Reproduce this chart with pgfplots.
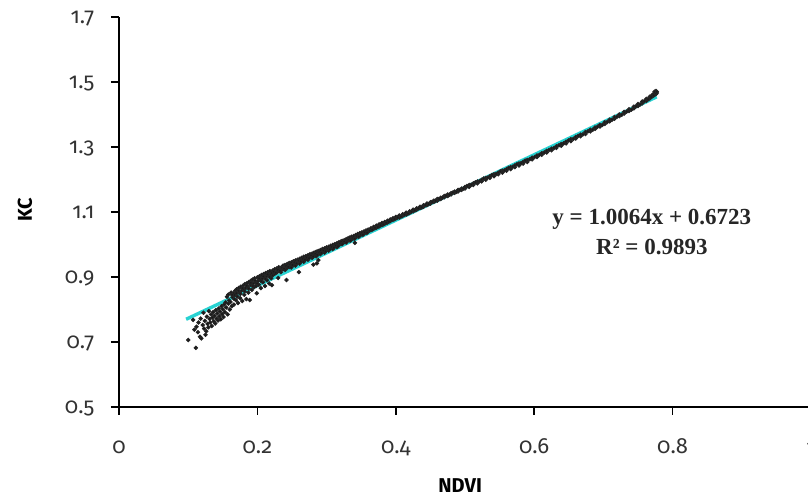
\documentclass[border=0pt]{standalone}
\usepackage{pgfplots}
\pgfplotsset{compat=1.18}
\usepackage{fontspec}
\setmainfont{Fira Sans}[Numbers=OldStyle]
\newfontfamily\eqfont{Liberation Serif}
\definecolor{trend}{RGB}{40,210,210}
\begin{document}
\begin{tikzpicture}
\begin{axis}[
  scale only axis, width=346pt, height=195pt,
  xmin=0, xmax=1, ymin=0.5, ymax=1.7,
  axis x line*=bottom, axis y line*=left,
  axis line style={line width=0.75pt, black},
  xtick={0,0.2,0.4,0.6,0.8,1},
  xticklabels={0,0.2,0.4,0.6,0.8,1},
  ytick={0.5,0.7,0.9,1.1,1.3,1.5,1.7},
  yticklabels={0.5,0.7,0.9,1.1,1.3,1.5,1.7},
  tick align=outside, major tick length=4pt,
  tick style={line width=0.75pt, black},
  ticklabel style={font=\fontsize{11}{13}\selectfont, text=black!80},
  xticklabel style={text height=0.7em, text depth=0.2em, yshift=-8.6pt},
  yticklabel style={text height=0.7em, text depth=0pt, xshift=-4.8pt},
  xlabel={NDVI}, ylabel={KC},
  label style={font=\bfseries\fontsize{10}{12}\selectfont},
  xlabel style={at={(axis description cs:0.493,-0.2026)}, anchor=center},
  ylabel style={at={(axis description cs:-0.1358,0.505)}, anchor=center},
  clip=false,
]
\addplot[only marks, mark=*, mark size=0.9pt, draw=black!85, fill=black!90] coordinates {
(0.100,0.706) (0.111,0.682) (0.107,0.768) (0.112,0.747) (0.117,0.716) (0.114,0.730) (0.119,0.711) (0.121,0.752) (0.123,0.741) (0.124,0.765) (0.126,0.733) (0.127,0.778) (0.128,0.756) (0.129,0.745) (0.131,0.771) (0.132,0.760) (0.133,0.785) (0.134,0.749) (0.135,0.775) (0.136,0.792) (0.137,0.764) (0.138,0.781) (0.139,0.757) (0.140,0.798) (0.141,0.772) (0.142,0.788) (0.143,0.766) (0.144,0.803) (0.145,0.779) (0.146,0.794) (0.147,0.770) (0.148,0.810) (0.149,0.786) (0.150,0.801) (0.151,0.777) (0.152,0.815) (0.153,0.792) (0.154,0.822) (0.155,0.806) (0.156,0.839) (0.157,0.785) (0.158,0.818) (0.159,0.828) (0.160,0.800) (0.118,0.772) (0.122,0.790) (0.109,0.738) (0.115,0.760) (0.130,0.795) (0.125,0.722) (0.158,0.846) (0.162,0.852)
(0.161,0.823) (0.163,0.810) (0.164,0.838) (0.165,0.850) (0.166,0.815) (0.167,0.845) (0.168,0.858) (0.169,0.829) (0.170,0.862) (0.171,0.840) (0.172,0.820) (0.173,0.866) (0.174,0.852) (0.175,0.835) (0.176,0.870) (0.177,0.858) (0.178,0.826) (0.179,0.873) (0.180,0.862) (0.181,0.845) (0.182,0.878) (0.183,0.866) (0.184,0.832) (0.185,0.881) (0.186,0.870) (0.187,0.852) (0.188,0.885) (0.189,0.829) (0.190,0.876) (0.191,0.889) (0.192,0.860) (0.193,0.892) (0.194,0.880) (0.195,0.868) (0.196,0.896) (0.197,0.884) (0.198,0.872) (0.199,0.850) (0.200,0.899) (0.201,0.888) (0.202,0.876) (0.203,0.902) (0.204,0.892) (0.205,0.866) (0.206,0.906) (0.207,0.895) (0.208,0.884) (0.209,0.909) (0.210,0.899) (0.211,0.872) (0.212,0.912) (0.213,0.902) (0.214,0.890) (0.215,0.915) (0.216,0.905) (0.217,0.880) (0.218,0.918) (0.219,0.908) (0.220,0.896) (0.221,0.875)
(0.1635,0.845) (0.1665,0.832) (0.1695,0.850) (0.1725,0.858) (0.1755,0.848) (0.1785,0.866) (0.1815,0.856) (0.1845,0.873) (0.1875,0.864) (0.1905,0.882) (0.1935,0.872) (0.1965,0.889) (0.1995,0.880) (0.2025,0.896) (0.2055,0.887) (0.2085,0.902) (0.2115,0.894) (0.2145,0.908) (0.2175,0.900) (0.2205,0.912)
(0.222,0.905) (0.222,0.920) (0.225,0.910) (0.225,0.924) (0.228,0.914) (0.228,0.926) (0.231,0.918) (0.231,0.930) (0.230,0.897) (0.234,0.915) (0.234,0.928) (0.237,0.924) (0.237,0.935) (0.240,0.922) (0.240,0.937) (0.242,0.891) (0.243,0.928) (0.243,0.940) (0.246,0.931) (0.246,0.943) (0.249,0.929) (0.249,0.945) (0.252,0.937) (0.252,0.948) (0.255,0.935) (0.255,0.951) (0.258,0.943) (0.258,0.953) (0.260,0.915) (0.261,0.941) (0.261,0.956) (0.264,0.949) (0.264,0.959) (0.267,0.947) (0.267,0.962) (0.270,0.955) (0.270,0.964) (0.273,0.953) (0.273,0.967) (0.276,0.961) (0.276,0.970) (0.279,0.959) (0.279,0.972) (0.281,0.938) (0.286,0.942) (0.288,0.952) (0.282,0.966) (0.282,0.975) (0.285,0.964) (0.285,0.978) (0.288,0.972) (0.288,0.980) (0.291,0.970) (0.291,0.983) (0.294,0.977) (0.294,0.986) (0.297,0.975) (0.297,0.988) (0.300,0.983) (0.300,0.991) (0.303,0.981) (0.303,0.993) (0.306,0.988) (0.306,0.996) (0.309,0.986) (0.309,0.999) (0.312,0.994) (0.312,1.001) (0.315,0.992) (0.315,1.004) (0.318,0.999) (0.318,1.007) (0.321,1.002) (0.321,1.010) (0.324,1.005) (0.324,1.012) (0.327,1.008) (0.327,1.015) (0.330,1.011) (0.330,1.018) (0.333,1.013) (0.333,1.021) (0.336,1.016) (0.336,1.024) (0.339,1.019) (0.339,1.026) (0.341,1.005) (0.342,1.022) (0.342,1.029) (0.345,1.025) (0.345,1.032) (0.348,1.028) (0.348,1.035) (0.351,1.031) (0.351,1.037) (0.354,1.034) (0.354,1.040) (0.357,1.037) (0.357,1.043) (0.360,1.040) (0.360,1.046) (0.364,1.044) (0.364,1.050) (0.368,1.048) (0.368,1.054) (0.372,1.052) (0.372,1.058) (0.376,1.056) (0.376,1.062) (0.380,1.060) (0.380,1.066) (0.384,1.064) (0.384,1.069) (0.388,1.068) (0.388,1.073) (0.392,1.072) (0.392,1.077) (0.396,1.076) (0.396,1.081) (0.400,1.080) (0.400,1.085)
(0.2235,0.916) (0.2265,0.913) (0.2295,0.922) (0.2325,0.919) (0.2355,0.928) (0.2385,0.926) (0.2415,0.934) (0.2445,0.931) (0.2475,0.939) (0.2505,0.937) (0.2535,0.945) (0.2565,0.942) (0.2595,0.950) (0.2625,0.948) (0.2655,0.955) (0.2685,0.953) (0.2715,0.960) (0.2745,0.958) (0.2775,0.966) (0.2805,0.963) (0.2835,0.971) (0.2865,0.968) (0.2895,0.976) (0.2925,0.974) (0.2955,0.981) (0.2985,0.979) (0.3015,0.986) (0.3045,0.985) (0.3075,0.992) (0.3105,0.990) (0.3135,0.997) (0.3165,0.995) (0.3195,1.003) (0.3225,1.001) (0.3255,1.009) (0.3285,1.006) (0.3315,1.014) (0.3345,1.012) (0.3375,1.019) (0.3405,1.018) (0.3435,1.025) (0.3465,1.024) (0.3495,1.031) (0.3525,1.030) (0.3555,1.037) (0.3585,1.036) (0.362,1.043) (0.366,1.046) (0.370,1.051) (0.374,1.054) (0.378,1.059) (0.382,1.062) (0.386,1.067) (0.390,1.070) (0.394,1.075) (0.398,1.078)
(0.405,1.083) (0.405,1.089) (0.410,1.088) (0.410,1.093) (0.415,1.092) (0.415,1.098) (0.420,1.097) (0.420,1.102) (0.425,1.102) (0.425,1.107) (0.430,1.107) (0.430,1.111) (0.435,1.112) (0.435,1.116) (0.440,1.116) (0.440,1.121) (0.445,1.121) (0.445,1.126) (0.450,1.126) (0.450,1.130) (0.455,1.131) (0.455,1.135) (0.460,1.135) (0.460,1.140) (0.465,1.140) (0.465,1.144) (0.470,1.145) (0.470,1.149) (0.475,1.149) (0.475,1.154) (0.480,1.154) (0.480,1.158) (0.485,1.159) (0.485,1.163) (0.490,1.163) (0.490,1.168) (0.495,1.168) (0.495,1.172) (0.500,1.172) (0.500,1.177)
(0.4025,1.083) (0.4075,1.086) (0.4125,1.092) (0.4175,1.095) (0.4225,1.101) (0.4275,1.105) (0.4325,1.111) (0.4375,1.114) (0.4425,1.121) (0.4475,1.124) (0.4525,1.131) (0.4575,1.134) (0.4625,1.140) (0.4675,1.144) (0.4725,1.150) (0.4775,1.153) (0.4825,1.160) (0.4875,1.162) (0.4925,1.168) (0.4975,1.172)
(0.506,1.177) (0.506,1.183) (0.512,1.183) (0.512,1.188) (0.518,1.188) (0.518,1.194) (0.524,1.194) (0.524,1.199) (0.530,1.199) (0.530,1.205) (0.536,1.205) (0.536,1.210) (0.542,1.210) (0.542,1.216) (0.548,1.216) (0.548,1.221) (0.554,1.221) (0.554,1.227) (0.560,1.227) (0.560,1.232) (0.566,1.232) (0.566,1.238) (0.572,1.238) (0.572,1.243) (0.578,1.243) (0.578,1.249) (0.584,1.249) (0.584,1.254) (0.590,1.254) (0.590,1.260) (0.597,1.262) (0.597,1.267) (0.604,1.269) (0.604,1.274) (0.611,1.276) (0.611,1.281) (0.618,1.283) (0.618,1.288) (0.625,1.290) (0.625,1.295) (0.632,1.297) (0.632,1.302) (0.639,1.304) (0.639,1.309) (0.646,1.311) (0.646,1.316) (0.653,1.318) (0.653,1.324) (0.660,1.326) (0.660,1.331) (0.667,1.333) (0.667,1.338) (0.674,1.340) (0.674,1.346) (0.681,1.348) (0.681,1.353) (0.688,1.356) (0.688,1.360) (0.695,1.363) (0.695,1.368) (0.702,1.371) (0.702,1.376) (0.709,1.379) (0.709,1.384) (0.716,1.387) (0.716,1.392) (0.723,1.395) (0.723,1.400) (0.730,1.403) (0.730,1.408) (0.737,1.411) (0.737,1.416) (0.744,1.419) (0.744,1.424) (0.750,1.426) (0.750,1.432) (0.756,1.434) (0.756,1.440) (0.762,1.442) (0.762,1.448) (0.767,1.449) (0.767,1.455) (0.771,1.456) (0.771,1.461) (0.774,1.460) (0.774,1.466) (0.776,1.463) (0.776,1.469) (0.777,1.466)
(0.503,1.180) (0.509,1.184) (0.515,1.191) (0.521,1.195) (0.527,1.203) (0.533,1.206) (0.539,1.214) (0.545,1.217) (0.551,1.225) (0.557,1.228) (0.563,1.236) (0.569,1.239) (0.575,1.247) (0.581,1.250) (0.587,1.258) (0.5935,1.262) (0.6005,1.269) (0.6075,1.276) (0.6145,1.283) (0.6215,1.291) (0.6285,1.297) (0.6355,1.305) (0.6425,1.311) (0.6495,1.320) (0.6565,1.325) (0.6635,1.334) (0.6705,1.339) (0.6775,1.348) (0.6845,1.353) (0.6915,1.362) (0.6985,1.368) (0.7055,1.377) (0.7125,1.384) (0.7195,1.393) (0.7265,1.399) (0.7335,1.409) (0.7405,1.415) (0.747,1.425) (0.753,1.431) (0.759,1.441) (0.7645,1.447) (0.769,1.454) (0.7725,1.459) (0.7755,1.466) (0.776,1.472) (0.774,1.470) (0.777,1.470)
};
\addplot[trend, line width=1.7pt, no marks] coordinates {(0.097,0.7699) (0.777,1.4543)};
\node[align=center, font=\eqfont\bfseries\fontsize{11.5}{15}\selectfont, text=black!85] at (axis cs:0.770,1.0385) {y = 1.0064x + 0.6723\\R² = 0.9893};
\coordinate (bbsw) at (axis cs:-0.17197,0.22615);
\coordinate (bbne) at (axis cs:0.99566,1.75231);
\end{axis}
\pgfresetboundingbox
\useasboundingbox (bbsw) rectangle (bbne);
\end{tikzpicture}
\end{document}
